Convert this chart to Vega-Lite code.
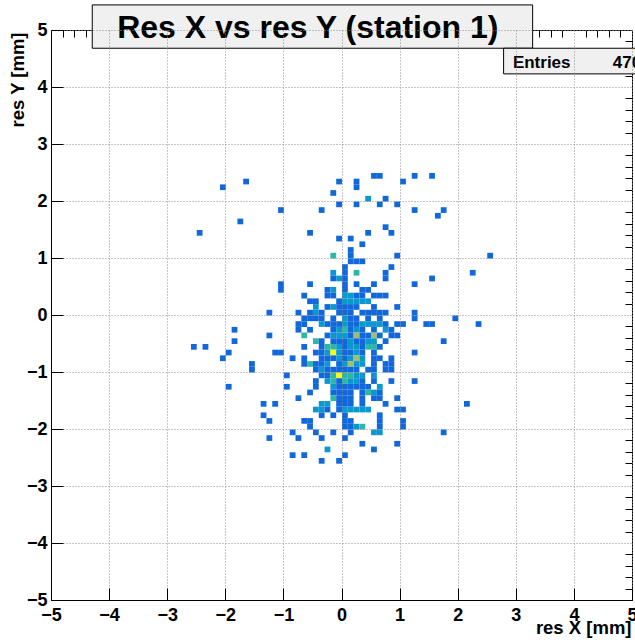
{
"$schema":"https://vega.github.io/schema/vega-lite/v6.json",
"width":581,"height":570,
"autosize":{"type":"none"},
"padding":{"left":51,"top":30,"right":3,"bottom":44},
"background":"white",
"config":{"view":{"stroke":"black","strokeWidth":1},"font":"Liberation Sans"},
"resolve":{"axis":{"x":"independent","y":"independent"}},
"layer":[
{"data":{"values":[
{"x":-1.7,"y":2.3,"n":1},{"x":-2.1,"y":2.2,"n":1},{"x":-1.8,"y":1.6,"n":1},{"x":-2.5,"y":1.4,"n":1},{"x":-1.1,"y":1.8,"n":1},{"x":-0.4,"y":1.8,"n":1},{"x":-0.6,"y":1.4,"n":1},{"x":-0.1,"y":2.3,"n":1},{"x":-0.2,"y":2.1,"n":1},{"x":-0.1,"y":1.9,"n":1},{"x":-0.1,"y":1.3,"n":1},{"x":-0.2,"y":1.0,"n":3},
{"x":0.5,"y":2.4,"n":1},{"x":0.6,"y":2.4,"n":1},{"x":1.2,"y":2.4,"n":1},{"x":1.5,"y":2.4,"n":1},{"x":0.2,"y":2.3,"n":1},{"x":0.2,"y":2.2,"n":1},{"x":1.0,"y":2.3,"n":1},{"x":0.4,"y":2.0,"n":2},{"x":0.7,"y":2.0,"n":1},{"x":0.2,"y":1.9,"n":1},{"x":0.6,"y":1.9,"n":1},{"x":0.9,"y":1.9,"n":1},{"x":1.2,"y":1.8,"n":1},{"x":1.7,"y":1.8,"n":1},{"x":1.6,"y":1.7,"n":1},{"x":0.7,"y":1.5,"n":1},{"x":0.8,"y":1.4,"n":1},{"x":0.4,"y":1.4,"n":1},{"x":0.1,"y":1.3,"n":1},{"x":0.3,"y":1.2,"n":1},{"x":0.1,"y":1.1,"n":1},{"x":0.1,"y":1.0,"n":1},{"x":0.1,"y":0.9,"n":1},{"x":0.2,"y":0.9,"n":1},{"x":0.3,"y":0.9,"n":1},{"x":0.9,"y":1.0,"n":1},{"x":2.5,"y":1.0,"n":1},
{"x":0.0,"y":0.8,"n":1},{"x":0.8,"y":0.8,"n":1},
{"x":-0.2,"y":0.7,"n":2},{"x":0.0,"y":0.7,"n":1},{"x":0.2,"y":0.7,"n":3},{"x":0.7,"y":0.7,"n":1},{"x":2.2,"y":0.7,"n":1},
{"x":-0.2,"y":0.6,"n":1},{"x":-0.1,"y":0.6,"n":2},{"x":0.0,"y":0.6,"n":1},{"x":0.7,"y":0.6,"n":1},{"x":1.5,"y":0.6,"n":1},
{"x":-1.1,"y":0.5,"n":1},{"x":-0.6,"y":0.5,"n":1},{"x":0.0,"y":0.5,"n":1},{"x":0.2,"y":0.5,"n":1},{"x":0.5,"y":0.5,"n":1},{"x":1.2,"y":0.5,"n":1},
{"x":-1.1,"y":0.4,"n":1},{"x":-0.3,"y":0.4,"n":1},{"x":-0.2,"y":0.4,"n":2},{"x":0.0,"y":0.4,"n":1},{"x":0.3,"y":0.4,"n":1},{"x":0.4,"y":0.4,"n":1},
{"x":-0.7,"y":0.3,"n":1},{"x":-0.3,"y":0.3,"n":1},{"x":-0.2,"y":0.3,"n":1},{"x":0.0,"y":0.3,"n":2},{"x":0.1,"y":0.3,"n":2},{"x":0.2,"y":0.3,"n":1},{"x":0.3,"y":0.3,"n":1},{"x":0.5,"y":0.3,"n":1},{"x":0.6,"y":0.3,"n":1},{"x":0.7,"y":0.3,"n":1},
{"x":-0.6,"y":0.2,"n":1},{"x":-0.5,"y":0.2,"n":1},{"x":-0.1,"y":0.2,"n":1},{"x":0.0,"y":0.2,"n":2},{"x":0.1,"y":0.2,"n":2},{"x":0.2,"y":0.2,"n":2},{"x":0.3,"y":0.2,"n":2},{"x":0.4,"y":0.2,"n":2},
{"x":-0.5,"y":0.1,"n":2},{"x":-0.3,"y":0.1,"n":1},{"x":-0.2,"y":0.1,"n":2},{"x":-0.1,"y":0.1,"n":1},{"x":0.0,"y":0.1,"n":1},{"x":0.1,"y":0.1,"n":1},{"x":0.2,"y":0.1,"n":1},{"x":0.5,"y":0.1,"n":1},{"x":0.9,"y":0.1,"n":1},
{"x":-1.3,"y":0.0,"n":1},{"x":-0.8,"y":0.0,"n":1},{"x":-0.6,"y":0.0,"n":1},{"x":-0.5,"y":0.0,"n":2},{"x":-0.4,"y":0.0,"n":1},{"x":-0.1,"y":0.0,"n":1},{"x":0.0,"y":0.0,"n":1},{"x":0.1,"y":0.0,"n":1},{"x":0.3,"y":0.0,"n":1},{"x":0.4,"y":0.0,"n":1},{"x":0.5,"y":0.0,"n":1},{"x":0.6,"y":0.0,"n":1},{"x":0.7,"y":0.0,"n":1},{"x":1.2,"y":0.0,"n":1},
{"x":-0.7,"y":-0.1,"n":1},{"x":-0.6,"y":-0.1,"n":1},{"x":-0.5,"y":-0.1,"n":1},{"x":-0.4,"y":-0.1,"n":1},{"x":-0.2,"y":-0.1,"n":1},{"x":0.0,"y":-0.1,"n":2},{"x":0.1,"y":-0.1,"n":1},{"x":0.2,"y":-0.1,"n":1},{"x":0.4,"y":-0.1,"n":1},{"x":0.6,"y":-0.1,"n":1},{"x":1.2,"y":-0.1,"n":1},{"x":1.9,"y":-0.1,"n":1},
{"x":-0.8,"y":-0.2,"n":1},{"x":-0.7,"y":-0.2,"n":1},{"x":-0.4,"y":-0.2,"n":2},{"x":-0.3,"y":-0.2,"n":1},{"x":-0.2,"y":-0.2,"n":1},{"x":-0.1,"y":-0.2,"n":1},{"x":0.0,"y":-0.2,"n":2},{"x":0.1,"y":-0.2,"n":1},{"x":0.2,"y":-0.2,"n":1},{"x":0.3,"y":-0.2,"n":2},{"x":0.4,"y":-0.2,"n":2},{"x":0.5,"y":-0.2,"n":2},{"x":0.6,"y":-0.2,"n":2},{"x":0.7,"y":-0.2,"n":1},{"x":0.9,"y":-0.2,"n":1},{"x":1.0,"y":-0.2,"n":1},{"x":1.4,"y":-0.2,"n":1},{"x":1.5,"y":-0.2,"n":1},{"x":2.3,"y":-0.2,"n":1},
{"x":-1.9,"y":-0.3,"n":1},{"x":-0.8,"y":-0.3,"n":1},{"x":-0.6,"y":-0.3,"n":1},{"x":-0.2,"y":-0.3,"n":1},{"x":-0.1,"y":-0.3,"n":2},{"x":0.0,"y":-0.3,"n":3},{"x":0.1,"y":-0.3,"n":1},{"x":0.2,"y":-0.3,"n":2},{"x":0.3,"y":-0.3,"n":1},{"x":0.5,"y":-0.3,"n":1},{"x":0.7,"y":-0.3,"n":2},{"x":0.8,"y":-0.3,"n":1},
{"x":-1.3,"y":-0.4,"n":1},{"x":-0.7,"y":-0.4,"n":3},{"x":-0.3,"y":-0.4,"n":1},{"x":-0.2,"y":-0.4,"n":2},{"x":-0.1,"y":-0.4,"n":2},{"x":0.0,"y":-0.4,"n":2},{"x":0.1,"y":-0.4,"n":1},{"x":0.2,"y":-0.4,"n":4},{"x":0.3,"y":-0.4,"n":1},{"x":0.4,"y":-0.4,"n":1},{"x":0.5,"y":-0.4,"n":4},{"x":0.6,"y":-0.4,"n":1},{"x":0.8,"y":-0.4,"n":1},{"x":0.9,"y":-0.4,"n":1},
{"x":-1.9,"y":-0.5,"n":1},{"x":-0.5,"y":-0.5,"n":3},{"x":-0.4,"y":-0.5,"n":1},{"x":-0.2,"y":-0.5,"n":1},{"x":-0.1,"y":-0.5,"n":1},{"x":0.0,"y":-0.5,"n":1},{"x":0.1,"y":-0.5,"n":2},{"x":0.2,"y":-0.5,"n":1},{"x":0.3,"y":-0.5,"n":1},{"x":0.4,"y":-0.5,"n":2},{"x":0.5,"y":-0.5,"n":2},{"x":0.7,"y":-0.5,"n":1},{"x":1.7,"y":-0.5,"n":1},
{"x":-2.6,"y":-0.6,"n":1},{"x":-2.4,"y":-0.6,"n":1},{"x":-0.7,"y":-0.6,"n":1},{"x":-0.4,"y":-0.6,"n":1},{"x":-0.3,"y":-0.6,"n":3},{"x":-0.2,"y":-0.6,"n":3},{"x":-0.1,"y":-0.6,"n":2},{"x":0.0,"y":-0.6,"n":1},{"x":0.1,"y":-0.6,"n":2},{"x":0.2,"y":-0.6,"n":2},{"x":0.3,"y":-0.6,"n":1},{"x":0.4,"y":-0.6,"n":3},{"x":0.5,"y":-0.6,"n":3},{"x":0.6,"y":-0.6,"n":1},
{"x":-2.0,"y":-0.7,"n":1},{"x":-1.2,"y":-0.7,"n":1},{"x":-1.1,"y":-0.7,"n":1},{"x":-0.5,"y":-0.7,"n":1},{"x":-0.4,"y":-0.7,"n":1},{"x":-0.3,"y":-0.7,"n":2},{"x":-0.2,"y":-0.7,"n":6},{"x":-0.1,"y":-0.7,"n":2},{"x":0.0,"y":-0.7,"n":1},{"x":0.1,"y":-0.7,"n":1},{"x":0.2,"y":-0.7,"n":2},{"x":0.3,"y":-0.7,"n":1},{"x":0.5,"y":-0.7,"n":1},{"x":1.2,"y":-0.7,"n":1},
{"x":-2.1,"y":-0.8,"n":1},{"x":-0.9,"y":-0.8,"n":1},{"x":-0.7,"y":-0.8,"n":1},{"x":-0.4,"y":-0.8,"n":1},{"x":-0.3,"y":-0.8,"n":1},{"x":-0.2,"y":-0.8,"n":1},{"x":-0.1,"y":-0.8,"n":2},{"x":0.0,"y":-0.8,"n":1},{"x":0.1,"y":-0.8,"n":2},{"x":0.2,"y":-0.8,"n":4},{"x":0.3,"y":-0.8,"n":2},{"x":0.5,"y":-0.8,"n":1},{"x":0.6,"y":-0.8,"n":1},{"x":0.8,"y":-0.8,"n":1},
{"x":-1.6,"y":-0.9,"n":1},{"x":-0.7,"y":-0.9,"n":1},{"x":-0.6,"y":-0.9,"n":3},{"x":-0.5,"y":-0.9,"n":1},{"x":-0.4,"y":-0.9,"n":1},{"x":-0.3,"y":-0.9,"n":2},{"x":-0.1,"y":-0.9,"n":1},{"x":0.0,"y":-0.9,"n":2},{"x":0.1,"y":-0.9,"n":4},{"x":0.2,"y":-0.9,"n":2},{"x":0.3,"y":-0.9,"n":2},{"x":0.5,"y":-0.9,"n":1},{"x":0.7,"y":-0.9,"n":1},{"x":0.8,"y":-0.9,"n":1},
{"x":-1.6,"y":-1.0,"n":1},{"x":-0.5,"y":-1.0,"n":1},{"x":-0.4,"y":-1.0,"n":2},{"x":-0.3,"y":-1.0,"n":1},{"x":-0.2,"y":-1.0,"n":1},{"x":-0.1,"y":-1.0,"n":1},{"x":0.0,"y":-1.0,"n":1},{"x":0.1,"y":-1.0,"n":1},{"x":0.2,"y":-1.0,"n":1},{"x":0.4,"y":-1.0,"n":1},{"x":0.5,"y":-1.0,"n":1},{"x":0.7,"y":-1.0,"n":1},{"x":0.8,"y":-1.0,"n":1},
{"x":-1.0,"y":-1.1,"n":1},{"x":-0.4,"y":-1.1,"n":1},{"x":-0.3,"y":-1.1,"n":1},{"x":-0.2,"y":-1.1,"n":3},{"x":-0.1,"y":-1.1,"n":6},{"x":0.0,"y":-1.1,"n":3},{"x":0.1,"y":-1.1,"n":3},{"x":0.2,"y":-1.1,"n":2},{"x":0.3,"y":-1.1,"n":2},{"x":0.5,"y":-1.1,"n":2},
{"x":-0.5,"y":-1.2,"n":1},{"x":-0.3,"y":-1.2,"n":2},{"x":-0.2,"y":-1.2,"n":3},{"x":-0.1,"y":-1.2,"n":1},{"x":0.0,"y":-1.2,"n":3},{"x":0.1,"y":-1.2,"n":2},{"x":0.2,"y":-1.2,"n":2},{"x":0.3,"y":-1.2,"n":1},{"x":0.5,"y":-1.2,"n":1},{"x":0.8,"y":-1.2,"n":1},{"x":1.2,"y":-1.2,"n":1},
{"x":-2.0,"y":-1.3,"n":1},{"x":-1.0,"y":-1.3,"n":1},{"x":-0.5,"y":-1.3,"n":1},{"x":-0.2,"y":-1.3,"n":2},{"x":-0.1,"y":-1.3,"n":1},{"x":0.0,"y":-1.3,"n":1},{"x":0.1,"y":-1.3,"n":1},{"x":0.2,"y":-1.3,"n":1},{"x":0.3,"y":-1.3,"n":1},{"x":0.4,"y":-1.3,"n":1},{"x":0.6,"y":-1.3,"n":2},
{"x":-0.6,"y":-1.4,"n":1},{"x":-0.2,"y":-1.4,"n":1},{"x":-0.1,"y":-1.4,"n":1},{"x":0.0,"y":-1.4,"n":1},{"x":0.1,"y":-1.4,"n":1},{"x":0.3,"y":-1.4,"n":1},{"x":0.4,"y":-1.4,"n":3},{"x":0.5,"y":-1.4,"n":2},{"x":0.6,"y":-1.4,"n":1},
{"x":-0.8,"y":-1.5,"n":1},{"x":-0.2,"y":-1.5,"n":3},{"x":-0.1,"y":-1.5,"n":1},{"x":0.0,"y":-1.5,"n":1},{"x":0.1,"y":-1.5,"n":1},{"x":0.3,"y":-1.5,"n":1},{"x":0.5,"y":-1.5,"n":1},{"x":0.6,"y":-1.5,"n":1},{"x":0.9,"y":-1.5,"n":1},
{"x":-1.4,"y":-1.6,"n":1},{"x":-1.2,"y":-1.6,"n":1},{"x":-0.4,"y":-1.6,"n":2},{"x":-0.3,"y":-1.6,"n":2},{"x":-0.1,"y":-1.6,"n":1},{"x":0.0,"y":-1.6,"n":1},{"x":0.1,"y":-1.6,"n":1},{"x":0.3,"y":-1.6,"n":1},{"x":0.7,"y":-1.6,"n":1},{"x":2.1,"y":-1.6,"n":1},
{"x":-0.5,"y":-1.7,"n":2},{"x":-0.4,"y":-1.7,"n":2},{"x":-0.3,"y":-1.7,"n":1},{"x":-0.1,"y":-1.7,"n":1},{"x":0.0,"y":-1.7,"n":2},{"x":0.1,"y":-1.7,"n":2},{"x":0.2,"y":-1.7,"n":2},{"x":0.3,"y":-1.7,"n":2},{"x":0.4,"y":-1.7,"n":2},{"x":0.9,"y":-1.7,"n":1},{"x":1.0,"y":-1.7,"n":1},
{"x":-1.4,"y":-1.8,"n":1},{"x":-0.4,"y":-1.8,"n":1},{"x":-0.2,"y":-1.8,"n":1},{"x":0.0,"y":-1.8,"n":1},{"x":0.6,"y":-1.8,"n":1},
{"x":-1.3,"y":-1.9,"n":1},{"x":-0.7,"y":-1.9,"n":1},{"x":-0.6,"y":-1.9,"n":1},{"x":0.0,"y":-1.9,"n":1},{"x":0.1,"y":-1.9,"n":1},{"x":0.6,"y":-1.9,"n":1},{"x":1.0,"y":-1.9,"n":1},
{"x":-0.6,"y":-2.0,"n":1},{"x":0.0,"y":-2.0,"n":1},{"x":0.1,"y":-2.0,"n":1},{"x":0.2,"y":-2.0,"n":2},{"x":0.3,"y":-2.0,"n":3},{"x":0.6,"y":-2.0,"n":1},{"x":1.0,"y":-2.0,"n":1},
{"x":-0.9,"y":-2.1,"n":1},{"x":-0.5,"y":-2.1,"n":1},{"x":-0.2,"y":-2.1,"n":1},{"x":0.1,"y":-2.1,"n":1},{"x":0.5,"y":-2.1,"n":2},{"x":0.6,"y":-2.1,"n":2},{"x":1.7,"y":-2.1,"n":1},
{"x":-1.3,"y":-2.2,"n":1},{"x":-0.8,"y":-2.2,"n":1},{"x":-0.4,"y":-2.2,"n":1},{"x":0.0,"y":-2.2,"n":1},
{"x":0.3,"y":-2.3,"n":1},{"x":0.9,"y":-2.3,"n":1},
{"x":-0.3,"y":-2.4,"n":2},{"x":0.5,"y":-2.4,"n":1},
{"x":-0.9,"y":-2.5,"n":1},{"x":-0.7,"y":-2.5,"n":1},{"x":0.0,"y":-2.5,"n":1},
{"x":-0.4,"y":-2.6,"n":1},{"x":-0.1,"y":-2.6,"n":1}
]},
"mark":{"type":"rect","binSpacing":0},
"encoding":{
"x":{"field":"x","type":"quantitative","bin":{"binned":true,"step":0.1},"scale":{"domain":[-5,5],"nice":false,"zero":false},
"axis":{"values":[-5,-4,-3,-2,-1,0,1,2,3,4,5],"format":"d","tickSize":-12,"tickColor":"black","domainColor":"black","labelFont":"Liberation Sans","labelFontWeight":"bold","labelFontSize":18,"labelColor":"black","labelPadding":18,"labelFlush":false,"labelOverlap":false,"grid":true,"gridDash":[1,2],"gridColor":"#8c8c8c","title":"res X [mm]","titleFont":"Liberation Sans","titleFontSize":18.5,"titleFontWeight":"bold","titleColor":"black","titleAnchor":"end","titleAlign":"right","titleX":580,"titleY":33,"titleBaseline":"alphabetic"}},
"y":{"field":"y","type":"quantitative","bin":{"binned":true,"step":0.1},"scale":{"domain":[-5,5],"nice":false,"zero":false},
"axis":{"values":[-5,-4,-3,-2,-1,0,1,2,3,4,5],"format":"d","tickSize":-12,"tickColor":"black","domainColor":"black","labelFont":"Liberation Sans","labelFontWeight":"bold","labelFontSize":18,"labelColor":"black","labelPadding":16,"labelFlush":false,"labelOverlap":false,"grid":true,"gridDash":[1,2],"gridColor":"#8c8c8c","title":"res Y [mm]","titleFont":"Liberation Sans","titleFontSize":18.5,"titleFontWeight":"bold","titleColor":"black","titleAnchor":"end","titleAlign":"right","titleAngle":270,"titleX":-28,"titleY":2,"titleBaseline":"alphabetic"}},
"color":{"field":"n","type":"quantitative","scale":{"domain":[0,0.75,1.5,2.25,3,3.75,4.5,5.25,6],"range":["#352a87","#0f5cdd","#1481d6","#06a4ca","#2eb7a4","#87bf77","#d1bb59","#fec832","#f9fb0e"],"interpolate":"rgb"},"legend":null}
}},
{"data":{"values":[{}]},
"mark":{"type":"rect","fill":"#f0f0f0","stroke":"black","strokeWidth":1},
"encoding":{
"x":{"datum":-4.29,"type":"quantitative","axis":{"values":[-4.8,-4.6,-4.4,-4.2,-3.8,-3.6,-3.4,-3.2,-2.8,-2.6,-2.4,-2.2,-1.8,-1.6,-1.4,-1.2,-0.8,-0.6,-0.4,-0.2,0.2,0.4,0.6,0.8,1.2,1.4,1.6,1.8,2.2,2.4,2.6,2.8,3.2,3.4,3.6,3.8,4.2,4.4,4.6,4.8],"labels":false,"domain":false,"grid":false,"tickSize":-7,"tickColor":"black","title":null}},
"x2":{"datum":3.29},
"y":{"datum":4.68,"type":"quantitative","axis":{"values":[-4.8,-4.6,-4.4,-4.2,-3.8,-3.6,-3.4,-3.2,-2.8,-2.6,-2.4,-2.2,-1.8,-1.6,-1.4,-1.2,-0.8,-0.6,-0.4,-0.2,0.2,0.4,0.6,0.8,1.2,1.4,1.6,1.8,2.2,2.4,2.6,2.8,3.2,3.4,3.6,3.8,4.2,4.4,4.6,4.8],"labels":false,"domain":false,"grid":false,"tickSize":-7,"tickColor":"black","title":null}},
"y2":{"datum":5.44}
}},
{"data":{"values":[{}]},
"mark":{"type":"text","text":"Res X vs res Y (station 1)","font":"Liberation Sans","fontWeight":"bold","fontSize":32,"align":"center","baseline":"alphabetic","color":"black"},
"encoding":{"x":{"datum":-0.58,"type":"quantitative","axis":null},"y":{"datum":4.86,"type":"quantitative","axis":null}}},
{"data":{"values":[{}]},
"mark":{"type":"rect","fill":"#f0f0f0","stroke":"black","strokeWidth":1},
"encoding":{"x":{"datum":2.79,"type":"quantitative","axis":null},"x2":{"datum":5.3},"y":{"datum":4.23,"type":"quantitative","axis":null},"y2":{"datum":4.68}}},
{"data":{"values":[{}]},
"mark":{"type":"text","text":"Entries","font":"Liberation Sans","fontWeight":"bold","fontSize":17,"align":"left","baseline":"alphabetic","color":"black"},
"encoding":{"x":{"datum":2.95,"type":"quantitative","axis":null},"y":{"datum":4.33,"type":"quantitative","axis":null}}},
{"data":{"values":[{}]},
"mark":{"type":"text","text":"470","font":"Liberation Sans","fontWeight":"bold","fontSize":17,"align":"left","baseline":"alphabetic","color":"black"},
"encoding":{"x":{"datum":4.67,"type":"quantitative","axis":null},"y":{"datum":4.33,"type":"quantitative","axis":null}}}
]
}
